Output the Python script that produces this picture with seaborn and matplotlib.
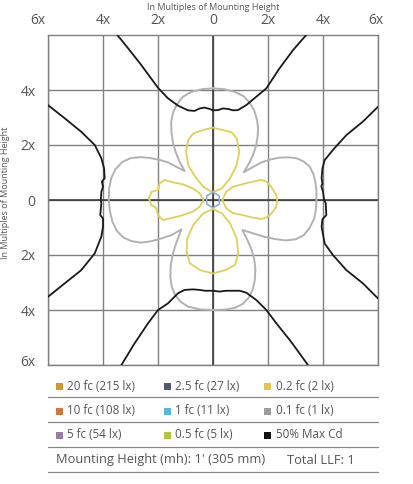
import matplotlib
matplotlib.use("Agg")
import matplotlib.pyplot as plt
import matplotlib.transforms as mtransforms
import seaborn as sns
from matplotlib.patches import Rectangle

sns.set_style("white")
plt.rcParams['font.family'] = ['Open Sans', 'DejaVu Sans']

# ---------------- data ----------------
tick_vals = [-6, -4, -2, 0, 2, 4, 6]
x_tick_labels = ["6x", "4x", "2x", "0", "2x", "4x", "6x"]
y_tick_vals = [-6, -4, -2, 0, 2, 4]
y_tick_labels = ["6x", "4x", "2x", "0", "2x", "4x"]

# 50% Max Cd (black)
cd_top_x = [-3.48, -3.09, -2.61, -2.0, -1.64, -1.27, -0.91, -0.67, -0.48, -0.30, -0.12, 0.0, 0.18, 0.36, 0.55, 0.73, 0.91, 1.21, 1.58, 1.94, 2.42, 2.91, 3.39]
cd_top_y = [6.0, 5.52, 4.91, 4.08, 3.70, 3.43, 3.26, 3.24, 3.33, 3.36, 3.31, 3.26, 3.27, 3.33, 3.31, 3.26, 3.27, 3.45, 3.76, 4.06, 4.79, 5.45, 6.0]
cd_bot_x = [-3.33, -2.85, -2.36, -2.0, -1.64, -1.27, -1.03, -0.73, -0.48, -0.30, 0.0, 0.24, 0.48, 0.73, 0.97, 1.21, 1.58, 1.94, 2.30, 2.79, 3.15, 3.45]
cd_bot_y = [-6.0, -5.21, -4.48, -4.0, -3.76, -3.39, -3.27, -3.25, -3.27, -3.30, -3.30, -3.33, -3.30, -3.30, -3.30, -3.37, -3.64, -4.0, -4.48, -5.09, -5.58, -6.0]
cd_left_x = [-6.0, -5.39, -4.79, -4.30, -4.06, -3.96, -3.94, -4.04, -4.0, -4.06, -4.08, -4.06, -4.10, -4.0, -4.0, -4.06, -4.30, -4.79, -5.39, -6.0]
cd_left_y = [3.45, 2.97, 2.48, 2.0, 1.52, 1.15, 0.79, 0.67, 0.48, 0.30, 0.0, -0.12, -0.55, -0.67, -0.97, -1.33, -1.94, -2.55, -3.03, -3.52]
cd_right_x = [6.0, 5.45, 4.85, 4.36, 4.06, 3.98, 3.95, 3.98, 3.94, 4.0, 4.04, 4.10, 4.12, 3.98, 3.95, 4.06, 4.36, 4.85, 5.45, 6.0]
cd_right_y = [3.39, 2.85, 2.36, 1.82, 1.45, 1.15, 0.79, 0.60, 0.50, 0.30, 0.0, -0.12, -0.55, -0.70, -0.97, -1.58, -2.0, -2.55, -3.03, -3.58]

# 0.1 fc (grey) cloverleaf
fc01_x = [0.0, 0.40, 0.80, 1.10, 1.33, 1.50, 1.60, 1.64, 1.62, 1.56, 1.46, 1.32, 1.12,
          1.45, 1.75, 2.10, 2.42, 2.75, 3.03, 3.30, 3.52, 3.65, 3.72, 3.76, 3.76,
          3.74, 3.68, 3.52, 3.30, 3.00, 2.65, 2.25, 1.85, 1.45, 1.07,
          1.25, 1.40, 1.50, 1.54, 1.52, 1.45, 1.30, 1.08, 0.80, 0.40, 0.0,
          -0.45, -0.90, -1.18, -1.38, -1.50, -1.55, -1.54, -1.47, -1.35, -1.15,
          -1.50, -1.88, -2.25, -2.61, -2.95, -3.25, -3.50, -3.66, -3.75, -3.79,
          -3.78, -3.70, -3.55, -3.30, -3.00, -2.65, -2.30, -1.95, -1.64, -1.03,
          -1.22, -1.36, -1.46, -1.51, -1.52, -1.45, -1.33, -1.10, -0.80, -0.40, 0.0]
fc01_y = [4.06, 4.03, 3.93, 3.78, 3.55, 3.25, 2.92, 2.61, 2.28, 1.95, 1.65, 1.35, 1.01,
          1.20, 1.36, 1.48, 1.54, 1.55, 1.52, 1.40, 1.21, 0.95, 0.67, 0.35, 0.0,
          -0.35, -0.68, -1.00, -1.28, -1.43, -1.47, -1.42, -1.33, -1.21, -1.09,
          -1.45, -1.80, -2.15, -2.50, -2.91, -3.25, -3.55, -3.78, -3.92, -3.99, -4.0,
          -3.98, -3.88, -3.70, -3.45, -3.15, -2.80, -2.40, -2.00, -1.60, -1.07,
          -1.27, -1.40, -1.50, -1.55, -1.50, -1.37, -1.12, -0.78, -0.40, 0.0,
          0.40, 0.80, 1.12, 1.38, 1.52, 1.56, 1.53, 1.46, 1.37, 1.05,
          1.40, 1.75, 2.10, 2.45, 2.85, 3.18, 3.45, 3.75, 3.93, 4.03, 4.06]

# 0.2 fc (yellow) petals
fc02_top_x = [0.03, -0.05, -0.35, -0.65, -0.90, -0.98, -0.90, -0.72, -0.35, 0.0, 0.32, 0.68, 0.86, 0.96, 0.86, 0.62, 0.32, 0.03]
fc02_top_y = [0.30, 0.30, 0.48, 0.85, 1.27, 1.76, 2.18, 2.42, 2.55, 2.63, 2.55, 2.46, 2.24, 1.76, 1.27, 0.79, 0.42, 0.30]
fc02_bot_x = [0.0, -0.35, -0.72, -0.93, -0.96, -0.84, -0.47, 0.0, 0.44, 0.80, 0.92, 0.86, 0.62, 0.32, 0.0]
fc02_bot_y = [-0.33, -0.48, -0.91, -1.39, -1.88, -2.30, -2.55, -2.67, -2.55, -2.36, -1.94, -1.39, -0.85, -0.48, -0.33]
fc02_right_x = [0.34, 0.48, 0.73, 1.09, 1.45, 1.76, 1.94, 2.12, 2.30, 2.33, 2.30, 2.18, 2.0, 1.76, 1.45, 1.09, 0.73, 0.48, 0.34]
fc02_right_y = [0.0, 0.30, 0.48, 0.58, 0.67, 0.73, 0.67, 0.48, 0.18, 0.0, -0.24, -0.42, -0.61, -0.69, -0.64, -0.55, -0.48, -0.30, 0.0]
fc02_left_x = [-2.33, -2.24, -2.0, -1.94, -1.76, -1.45, -1.09, -0.73, -0.48, -0.34, -0.48, -0.73, -1.09, -1.45, -1.82, -2.0, -2.06, -2.24, -2.33]
fc02_left_y = [0.06, 0.30, 0.36, 0.61, 0.73, 0.64, 0.57, 0.42, 0.24, 0.0, -0.24, -0.42, -0.55, -0.64, -0.73, -0.55, -0.30, -0.18, 0.06]

# 1 fc (blue) small centre contour
fc1_x = [0.0, 0.23, 0.23, 0.0, -0.23, -0.23, 0.0]
fc1_y = [0.28, 0.15, -0.15, -0.28, -0.15, 0.15, 0.28]

legend_labels = ["20 fc (215 lx)", "2.5 fc (27 lx)", "0.2 fc (2 lx)",
                 "10 fc (108 lx)", "1 fc (11 lx)", "0.1 fc (1 lx)",
                 "5 fc (54 lx)", "0.5 fc (5 lx)", "50% Max Cd"]
legend_colors = ["#d4962e", "#525c68", "#e9c24c",
                 "#d2773c", "#5cb4dc", "#9c9c9c",
                 "#9a7ca8", "#b4c444", "#111111"]
footer_left = "Mounting Height (mh): 1' (305 mm)"
footer_right = "Total LLF: 1"
axis_title = "In Multiples of Mounting Height"

# ---------------- figure ----------------
W, H = 414, 484
fig = plt.figure(figsize=(W / 100, H / 100), dpi=100)
ax = fig.add_axes([48 / W, (H - 365) / H, 330 / W, 330 / H])

txt_col = "#555555"
grid_col = "#808080"

def draw(xs, ys, color, lw):
    sns.lineplot(x=xs, y=ys, sort=False, estimator=None, color=color,
                 linewidth=lw, ax=ax, zorder=3)

draw(fc01_x, fc01_y, "#b2b2b4", 1.4)
for xs, ys in [(fc02_top_x, fc02_top_y), (fc02_bot_x, fc02_bot_y),
               (fc02_right_x, fc02_right_y), (fc02_left_x, fc02_left_y)]:
    draw(xs, ys, "#dcd25a", 1.3)
draw(fc1_x, fc1_y, "#8fb0cc", 1.2)
for xs, ys in [(cd_top_x, cd_top_y), (cd_bot_x, cd_bot_y),
               (cd_left_x, cd_left_y), (cd_right_x, cd_right_y)]:
    draw(xs, ys, "#1a1a1a", 1.3)

ax.set_xlim(-6, 6)
ax.set_ylim(-6, 6)
ax.set_xticks(tick_vals)
ax.set_xticklabels(x_tick_labels)
ax.set_yticks(y_tick_vals)
ax.set_yticklabels(y_tick_labels)
ax.xaxis.tick_top()
ax.tick_params(axis='x', length=0, pad=5, labelsize=10, labelcolor=txt_col)
ax.tick_params(axis='y', length=0, pad=9, labelsize=10, labelcolor=txt_col)
ax.grid(True, color=grid_col, linewidth=1.0, zorder=1)
ax.axhline(0, color="#333333", linewidth=1.1, zorder=2)
ax.axvline(0, color="#333333", linewidth=1.1, zorder=2)
for s in ax.spines.values():
    s.set_color(grid_col)
    s.set_linewidth(1.0)
ax.set_xlabel("")
ax.set_ylabel("")

# small offsets of the corner labels, as in the reference
xl = ax.get_xticklabels()
xl[0].set_transform(xl[0].get_transform() + mtransforms.ScaledTranslation(-10 / 100, 0, fig.dpi_scale_trans))
xl[-1].set_transform(xl[-1].get_transform() + mtransforms.ScaledTranslation(-2 / 100, 0, fig.dpi_scale_trans))
yl = ax.get_yticklabels()
yl[0].set_transform(yl[0].get_transform() + mtransforms.ScaledTranslation(0, 5 / 100, fig.dpi_scale_trans))

fig.text(213 / W, 1 - 8 / H, axis_title, ha="center", va="center",
         fontsize=6.5, color=txt_col)
fig.text(6 / W, 1 - 193 / H, axis_title, ha="center", va="center",
         rotation=90, fontsize=6.5, color=txt_col)

# legend overlay in pixel coordinates
lax = fig.add_axes([0, 0, 1, 1], facecolor="none")
lax.set_xlim(0, W)
lax.set_ylim(H, 0)
lax.axis("off")

row_y = [386, 411, 435]
col_sq = [56.5, 164.5, 264.5]
col_tx = [67.5, 175.5, 276]
for i, (lab, colr) in enumerate(zip(legend_labels, legend_colors)):
    r, c = divmod(i, 3)
    lax.add_patch(Rectangle((col_sq[c], row_y[r] - 3.5), 7, 7, facecolor=colr,
                            edgecolor="none"))
    lax.text(col_tx[c], row_y[r], lab, ha="left", va="center", fontsize=8.4,
             color=txt_col)
for yy in [397, 422, 447, 472]:
    lax.plot([48, 378], [yy, yy], color="#888888", linewidth=0.9)
lax.text(56.5, 460, footer_left, ha="left", va="center", fontsize=9.3, color=txt_col)
lax.text(287, 460, footer_right, ha="left", va="center", fontsize=9.3, color=txt_col)

fig.savefig("out.png", dpi=100)
